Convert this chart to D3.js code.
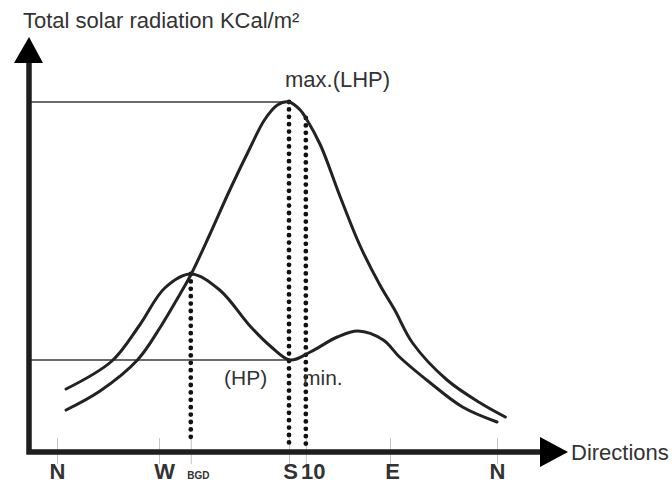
<!DOCTYPE html>
<html>
<head>
<meta charset="utf-8">
<script src="https://cdn.jsdelivr.net/npm/d3@7"></script>
<style>
  html, body { margin: 0; padding: 0; background: #fff; }
  svg { display: block; font-family: "Liberation Sans", Arial, Helvetica, sans-serif; }
</style>
</head>
<body>
<svg id="chart" width="672" height="495"></svg>
<script>
// Compass directions along the horizon (degrees) and their labels
const compassAngles = [0, 90, 180, 270, 360];
const tickAngles = [0, 90, 112, 180, 195, 270, 360];
const tickLabels = ["N", "W", "BGD", "S", "10", "E", "N"];

// Large curve: total radiation, peaking towards the south (LHP)
const lhpAngles = [8, 38, 71, 91, 105, 112, 125, 139, 153, 163, 172, 180, 190, 195, 208, 225, 243, 261, 274, 289, 318, 346, 367];
const lhpValues = [10.5, 15.25, 23, 31.25, 39.75, 44.25, 54.25, 65.5, 76, 83, 86.75, 87.5, 85.5, 83.5, 76.75, 64.25, 51.75, 41.75, 35.5, 27.25, 18, 12.25, 8.75];

// Double-humped curve (HP), minimum towards the south
const hpAngles = [8, 48.5, 73, 94, 112, 132, 153, 167, 181, 199, 223, 241.5, 264, 278, 304, 331, 360];
const hpValues = [15.75, 22.75, 31.75, 41, 44.5, 40.5, 31.5, 26.5, 23, 25, 28.75, 30.25, 28, 23.75, 17.25, 11.25, 7.5];

// Marked levels and guide directions
const lhpMax = { angle: 180, value: 87.5 };
const hpMin = { angle: 180, value: 23 };
const guideAngles = [112, 180, 195];
const guideTops = [44.5, 87.5, 83.5];

const svg = d3.select("#chart");
const ink = "#222";
const textColor = "#333";

const axisX = 29, axisY = 452;

const x = d3.scaleLinear().domain(compassAngles).range([57, 159, 289, 390, 497]);
const y = d3.scaleLinear().domain([0, 100]).range([axisY, 52]);

// Thin grey tick marks crossing the horizontal axis, with direction labels
const xAxis = d3.axisBottom(x)
  .tickValues(tickAngles)
  .tickSize(26)
  .tickPadding(0)
  .tickFormat((d, i) => tickLabels[i]);

const axisG = svg.append("g")
  .attr("transform", `translate(0,${axisY - 14})`)
  .call(xAxis);
axisG.select(".domain").remove();
axisG.selectAll(".tick line").attr("stroke", "#c4c4c4").attr("stroke-width", 1);
const labelShift = { "W": 5, "BGD": 7, "10": 7, "E": 2, "S": 1 };
axisG.selectAll(".tick text")
  .attr("y", 41)
  .attr("dy", 0)
  .attr("dx", (d, i) => labelShift[tickLabels[i]] || 0)
  .attr("fill", textColor)
  .attr("font-weight", "bold")
  .attr("font-size", (d, i) => tickLabels[i] === "BGD" ? 10 : 22)
  .attr("font-family", "'Liberation Sans', Arial, sans-serif");

// Level lines from the vertical axis to the maximum / minimum
[lhpMax, hpMin].forEach(p => {
  svg.append("line")
    .attr("x1", axisX).attr("x2", x(p.angle))
    .attr("y1", y(p.value)).attr("y2", y(p.value))
    .attr("stroke", "#3a3a3a").attr("stroke-width", 1.5);
});

// Dotted guides down to the horizontal axis
guideAngles.forEach((a, i) => {
  svg.append("line")
    .attr("x1", x(a)).attr("x2", x(a))
    .attr("y1", y(guideTops[i])).attr("y2", axisY - 8)
    .attr("stroke", "#111")
    .attr("stroke-width", 4.8)
    .attr("stroke-linecap", "round")
    .attr("stroke-dasharray", "0 7.4");
});

// Curves
const line = d3.line()
  .x(d => x(d[0]))
  .y(d => y(d[1]))
  .curve(d3.curveCatmullRom.alpha(0.5));

svg.append("path")
  .datum(d3.zip(lhpAngles, lhpValues))
  .attr("d", line)
  .attr("fill", "none")
  .attr("stroke", ink)
  .attr("stroke-width", 3)
  .attr("stroke-linecap", "round");

svg.append("path")
  .datum(d3.zip(hpAngles, hpValues))
  .attr("d", line)
  .attr("fill", "none")
  .attr("stroke", ink)
  .attr("stroke-width", 3)
  .attr("stroke-linecap", "round");

// Axes with arrow heads
const axisStroke = "#1e1e1e";
svg.append("path")
  .attr("d", `M${axisX},60 V${axisY} H540`)
  .attr("fill", "none")
  .attr("stroke", axisStroke)
  .attr("stroke-width", 5.5)
  .attr("stroke-linejoin", "miter");
svg.append("path")
  .attr("d", `M${axisX - 15},63 L${axisX + 14},63 L${axisX},37 Z`)
  .attr("fill", "#000");
svg.append("path")
  .attr("d", `M540,${axisY - 15} L540,${axisY + 15} L568,${axisY} Z`)
  .attr("fill", "#000");

// Text annotations
const txt = (s, tx, ty, size) => svg.append("text")
  .attr("x", tx).attr("y", ty)
  .attr("font-size", size)
  .attr("fill", textColor)
  .text(s);

txt("Total solar radiation KCal/m²", 23, 28, 22);
txt("Directions", 571, 460, 22);
txt("max.(LHP)", 285, 87, 22);
txt("(HP)", 224, 385, 21);
txt("min.", 303, 385, 21);
</script>
</body>
</html>
